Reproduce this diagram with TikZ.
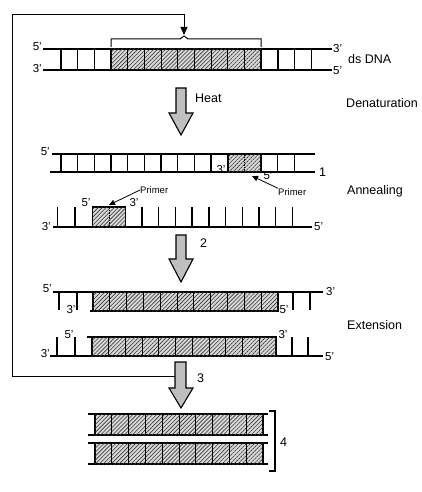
\documentclass[tikz,border=0pt]{standalone}
\usepackage{fontspec}
\setmainfont{Liberation Sans}
\usetikzlibrary{patterns.meta,arrows.meta}
\begin{document}
\begin{tikzpicture}[x=1pt,y=-1pt,
  strand/.style={line width=1.4pt},
  rung/.style={line width=1.4pt},
  hatchbox/.style={draw, line width=1.3pt, fill=gray!30,
    postaction={pattern={Lines[angle=45,distance=2.8pt,line width=0.6pt]}, pattern color=black!80}},
  cellsep/.style={line width=0.9pt},
  bigarrow/.style={draw, line width=1.1pt, fill=gray!50, line join=miter},
  title/.style={font=\fontsize{12.5}{14}\selectfont, inner sep=0pt},
  endlbl/.style={font=\fontsize{11.5}{13}\selectfont, inner sep=0pt},
  primerlbl/.style={font=\fontsize{9.5}{11}\selectfont, inner sep=0pt},
  pointer/.style={line width=0.8pt, -{Triangle[length=6pt,width=5.5pt]}},
  loop/.style={line width=1pt, -{Triangle[length=8pt,width=7pt]}}
]
\useasboundingbox (0,0) rectangle (422,492);

% ---------------- ds DNA ----------------
\draw[strand] (43,49) -- (332,49);
\draw[strand] (43,70) -- (332,70);
\foreach \x in {61,77.7,94.4,278,294.7,311.4} \draw[rung] (\x,49) -- (\x,70);
\draw[hatchbox] (111,49) rectangle (261,70);
\foreach \k in {1,...,8} \draw[cellsep] ({111+16.667*\k},49) -- ({111+16.667*\k},70);
\node[endlbl, anchor=east] (d5l) at (42,47) {5’};
\node[endlbl, anchor=east] (d3l) at (42,69) {3’};
\node[endlbl, anchor=west] (d3r) at (333,49) {3’};
\node[endlbl, anchor=west] (d5r) at (333,71) {5’};
\node[title, anchor=west] (dsdna) at (348,59) {ds DNA};
% bracket
\draw[line width=1pt] (111,47) -- (111,39) -- (180,39) -- (184,36) -- (188,39) -- (261,39) -- (261,47);
\coordinate (brtop) at (184,35);

% Heat arrow
\draw[bigarrow] (176,88) -- (186,88) -- (186,113) -- (193,113) -- (181,135) -- (169,113) -- (176,113) -- cycle;
\node[title, anchor=west] (heat) at (195,98) {Heat};
\node[title, anchor=east] (denat) at (418,103) {Denaturation};

% ---------------- Annealing strand 1 ----------------
\draw[strand] (52,154) -- (315,154);
\draw[strand] (50,172) -- (315,172);
\foreach \k in {0,...,9,13,14} \draw[rung] ({61+16.667*\k},154) -- ({61+16.667*\k},172);
\draw[hatchbox] (228,154) rectangle (261,172);
\draw[cellsep, dashed, dash pattern=on 1.5pt off 1pt] (244.5,154) -- (244.5,172);
\node[endlbl, anchor=east] (a5l) at (50,152) {5’};
\node[endlbl] (a3m) at (221,170) {3’};
\node[endlbl] (a5m) at (268,176) {5’};
\node[title, anchor=west] (one) at (319,172) {1};
\node[primerlbl, anchor=west] (primer1) at (278,192) {Primer};
\coordinate (p1tip) at (252,176);
\draw[pointer] (primer1.north west) -- (p1tip);

% ---------------- Annealing strand 2 ----------------
\draw[strand] (53,227) -- (312,227);
\foreach \x in {57.5,75} \draw[rung] (\x,207) -- (\x,227);
\foreach \k in {0,...,9} \draw[rung] ({142+16.7*\k},207) -- ({142+16.7*\k},227);
\draw[hatchbox] (92.5,207) rectangle (125.7,227);
\draw[cellsep, dashed, dash pattern=on 1.5pt off 1pt] (109,207) -- (109,227);
\node[endlbl, anchor=east] (b3l) at (51,227) {3’};
\node[endlbl, anchor=west] (b5r) at (314,227) {5’};
\node[endlbl] (b5m) at (86,203) {5’};
\node[endlbl] (b3m) at (134,203) {3’};
\node[primerlbl, anchor=west] (primer2) at (140,190) {Primer};
\coordinate (p2tip) at (109,205);
\draw[pointer] (primer2.west) -- (p2tip);
\node[title, anchor=west] (anneal) at (347,191) {Annealing};

% Arrow 2
\draw[bigarrow] (176,235) -- (186,235) -- (186,259) -- (193,259) -- (181,282) -- (169,259) -- (176,259) -- cycle;
\node[title, anchor=west] (two) at (200,243) {2};

% ---------------- Extension strand A ----------------
\draw[strand] (53,292) -- (323,292);
\foreach \x in {59,77,293,310} \draw[rung] (\x,292) -- (\x,310);
\draw[strand] (90,311) -- (93,311);
\draw[hatchbox] (93,292) rectangle (278,311);
\foreach \k in {1,...,10} \draw[cellsep] ({93+16.82*\k},292) -- ({93+16.82*\k},311);
\node[endlbl, anchor=east] (e5l) at (52,289) {5’};
\node[endlbl, anchor=west] (e3r) at (326,292) {3’};
\node[endlbl] (e3m) at (71,310) {3’};
\node[endlbl] (e5m) at (284,310) {5’};

% ---------------- Extension strand B ----------------
\draw[strand] (50,356) -- (323,356);
\foreach \x in {57,75,292,308} \draw[rung] (\x,337) -- (\x,356);
\draw[strand] (87,337) -- (92,337);
\draw[hatchbox] (92,337) rectangle (276,356);
\foreach \k in {1,...,10} \draw[cellsep] ({92+16.73*\k},337) -- ({92+16.73*\k},356);
\node[endlbl, anchor=east] (f3l) at (50,354) {3’};
\node[endlbl, anchor=west] (f5r) at (325,357) {5’};
\node[endlbl] (f5m) at (69,335) {5’};
\node[endlbl] (f3m) at (283,335) {3’};
\node[title, anchor=west] (ext) at (347,325) {Extension};

% Arrow 3
\draw[bigarrow] (175,362) -- (186,362) -- (186,388) -- (193,388) -- (181,408) -- (169,388) -- (175,388) -- cycle;
\node[title, anchor=west] (three) at (197,378) {3};
\coordinate (loopstart) at (175,376);

% feedback loop
\draw[loop] (loopstart) -| (12,15) -| (brtop);

% ---------------- Products ----------------
\foreach \yt/\yb in {414/435,443/464} {
  \draw[strand] (88,\yt) -- (268,\yt);
  \draw[strand] (88,\yb) -- (268,\yb);
  \draw[hatchbox] (95,\yt) rectangle (263,\yb);
  \foreach \k in {1,...,9} \draw[cellsep] ({95+16.8*\k},\yt) -- ({95+16.8*\k},\yb);
}
\draw[line width=1.1pt] (269,411) -- (275,411) -- (275,471) -- (269,471);
\node[title, anchor=west] (four) at (280,442) {4};
\end{tikzpicture}
\end{document}
